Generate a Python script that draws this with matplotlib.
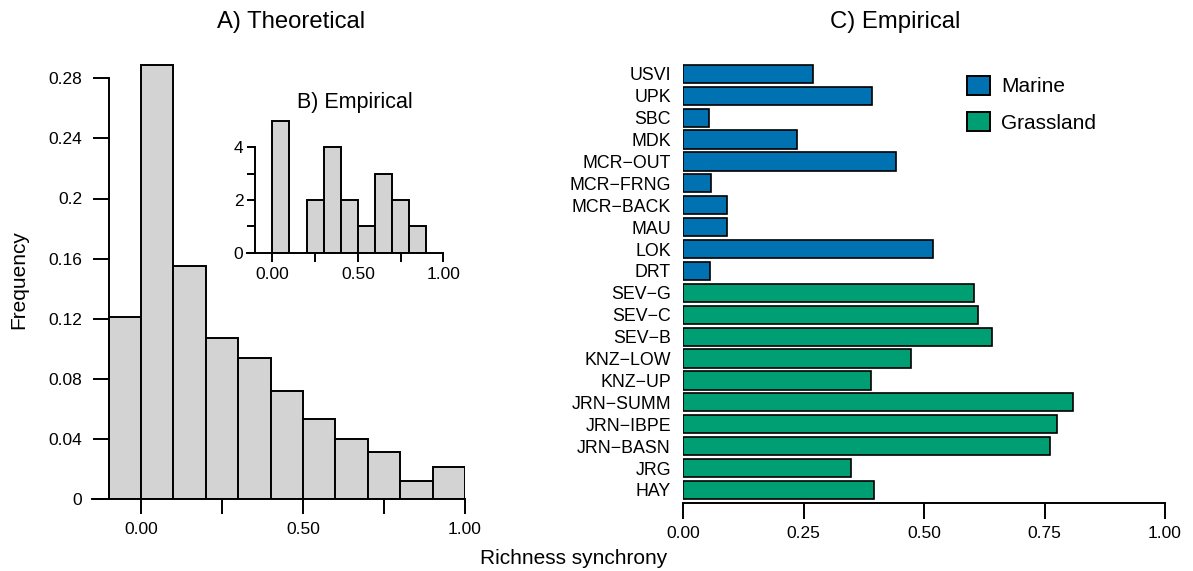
import matplotlib
matplotlib.use("Agg")
import matplotlib.pyplot as plt
from matplotlib.patches import Patch
import numpy as np

plt.rcParams['font.family'] = ['Liberation Sans', 'DejaVu Sans']

# ---- A) Theoretical histogram ----
theo_edges = [-0.1, 0.0, 0.1, 0.2, 0.3, 0.4, 0.5, 0.6, 0.7, 0.8, 0.9, 1.0]
theo_freq = [0.121, 0.289, 0.155, 0.107, 0.094, 0.072, 0.053, 0.040, 0.031, 0.012, 0.021]
theo_yticks = [0, 0.04, 0.08, 0.12, 0.16, 0.20, 0.24, 0.28]
theo_yticklabels = ['0', '0.04', '0.08', '0.12', '0.16', '0.2', '0.24', '0.28']

# ---- B) Empirical histogram (inset) ----
emp_edges = [0.0, 0.1, 0.2, 0.3, 0.4, 0.5, 0.6, 0.7, 0.8, 0.9]
emp_counts = [5, 0, 2, 4, 2, 1, 3, 2, 1]

# shared x ticks for histograms
hist_xticks = [0.0, 0.25, 0.5, 0.75, 1.0]
hist_xticklabels = ['0.00', '', '0.50', '', '1.00']

# ---- C) Empirical per-site bars ----
sites = ['USVI', 'UPK', 'SBC', 'MDK', 'MCR\u2212OUT', 'MCR\u2212FRNG', 'MCR\u2212BACK',
         'MAU', 'LOK', 'DRT', 'SEV\u2212G', 'SEV\u2212C', 'SEV\u2212B', 'KNZ\u2212LOW',
         'KNZ\u2212UP', 'JRN\u2212SUMM', 'JRN\u2212IBPE', 'JRN\u2212BASN', 'JRG', 'HAY']
synchrony = [0.269, 0.391, 0.054, 0.237, 0.441, 0.057, 0.090, 0.090, 0.518, 0.055,
             0.603, 0.612, 0.640, 0.472, 0.390, 0.810, 0.775, 0.761, 0.349, 0.395]
biome = ['Marine'] * 10 + ['Grassland'] * 10
biome_colors = {'Marine': '#0072B2', 'Grassland': '#009E73'}
bar_xticks = [0.0, 0.25, 0.5, 0.75, 1.0]
bar_xticklabels = ['0.00', '0.25', '0.50', '0.75', '1.00']

W, H = 1193, 571
fig = plt.figure(figsize=(W / 100, H / 100), dpi=100)

def px_axes(left, top, right, bottom):
    return fig.add_axes([left / W, 1 - bottom / H, (right - left) / W, (bottom - top) / H])

LW = 1.4
TICK = 12.5

# ---------- Panel A ----------
axA = px_axes(92.4, 498.9 - 0.295 * 1502, 465.0, 498.9)
edges = np.array(theo_edges)
axA.bar(edges[:-1], theo_freq, width=np.diff(edges), align='edge',
        color='#D3D3D3', edgecolor='black', linewidth=LW, zorder=2)
axA.set_xlim(-0.15, 1.0)
axA.set_ylim(0, 0.295)
for s in ['top', 'right']:
    axA.spines[s].set_visible(False)
axA.spines['left'].set_position(('data', -0.1))
axA.spines['left'].set_bounds(0, 0.28)
axA.spines['bottom'].set_bounds(-0.15, 1.0)
for s in ['left', 'bottom']:
    axA.spines[s].set_linewidth(LW)
axA.set_yticks(theo_yticks)
axA.set_yticklabels(theo_yticklabels)
axA.set_xticks(hist_xticks)
axA.set_xticklabels(hist_xticklabels)
axA.tick_params(axis='y', direction='out', length=11.6, width=LW, pad=7.5, labelsize=TICK)
axA.tick_params(axis='x', direction='out', length=11.0, width=LW, pad=5.5, labelsize=TICK)
axA.patch.set_visible(False)

# ---------- Panel B (inset) ----------
axB = px_axes(246.7, 252.7 - 5.05 * 26.35, 443.3, 252.7)
e2 = np.array(emp_edges)
axB.bar(e2[:-1], emp_counts, width=np.diff(e2), align='edge',
        color='#D3D3D3', edgecolor='black', linewidth=LW, zorder=2)
axB.set_xlim(-0.15, 1.0)
axB.set_ylim(0, 5.05)
for s in ['top', 'right']:
    axB.spines[s].set_visible(False)
axB.spines['left'].set_position(('data', -0.1))
axB.spines['left'].set_bounds(0, 4)
axB.spines['bottom'].set_bounds(-0.15, 1.0)
for s in ['left', 'bottom']:
    axB.spines[s].set_linewidth(LW)
axB.set_yticks([0, 1, 2, 3, 4])
axB.set_yticklabels(['0', '', '2', '', '4'])
axB.set_xticks(hist_xticks)
axB.set_xticklabels(hist_xticklabels)
axB.tick_params(axis='y', direction='out', length=6.0, width=LW, pad=2.5, labelsize=TICK)
axB.tick_params(axis='x', direction='out', length=6.5, width=LW, pad=4.0, labelsize=TICK)
axB.patch.set_visible(False)
for b in axB.patches:
    if b.get_height() == 0:
        b.set_visible(False)

# ---------- Panel C ----------
axC = px_axes(683.3, 502.7 - 24.2 * 18.25, 1165.0, 502.7)
n = len(sites)
ypos = [0.7 + 1.2 * (n - 1 - i) for i in range(n)]
cols = [biome_colors[b] for b in biome]
axC.barh(ypos, synchrony, height=1.0, color=cols, edgecolor='black', linewidth=1.2, zorder=2)
axC.set_xlim(0, 1)
axC.set_ylim(0, 24.2)
for s in ['top', 'right', 'left']:
    axC.spines[s].set_visible(False)
axC.spines['bottom'].set_bounds(0, 1)
axC.spines['bottom'].set_linewidth(LW)
axC.set_yticks(ypos)
axC.set_yticklabels(sites)
axC.set_xticks(bar_xticks)
axC.set_xticklabels(bar_xticklabels)
axC.tick_params(axis='y', length=0, pad=8.9, labelsize=12.8)
axC.tick_params(axis='x', direction='out', length=11.3, width=LW, pad=5.3, labelsize=TICK)
axC.patch.set_visible(False)

handles = [Patch(facecolor=biome_colors[k], edgecolor='black', linewidth=1.4, label=k)
           for k in ['Marine', 'Grassland']]
fig.legend(handles=handles, loc='upper left', bbox_to_anchor=(967 / W, 1 - 76 / H),
           frameon=False, fontsize=15, handlelength=1.1, handleheight=1.0,
           handletextpad=0.55, labelspacing=0.75, borderpad=0, borderaxespad=0)

# ---------- Titles & labels ----------
fig.text(291 / W, 1 - 28.3 / H, 'A) Theoretical', ha='center', va='baseline', fontsize=17.2)
fig.text(895 / W, 1 - 28.3 / H, 'C) Empirical', ha='center', va='baseline', fontsize=17.2)
fig.text(355 / W, 1 - 107.7 / H, 'B) Empirical', ha='center', va='baseline', fontsize=15.5)
fig.text(573.5 / W, 1 - 564.3 / H, 'Richness synchrony', ha='center', va='baseline', fontsize=15)
fig.text(18.3 / W, 1 - 280 / H, 'Frequency', ha='center', va='center', rotation=90, fontsize=15)

fig.savefig('out.png', dpi=100)
